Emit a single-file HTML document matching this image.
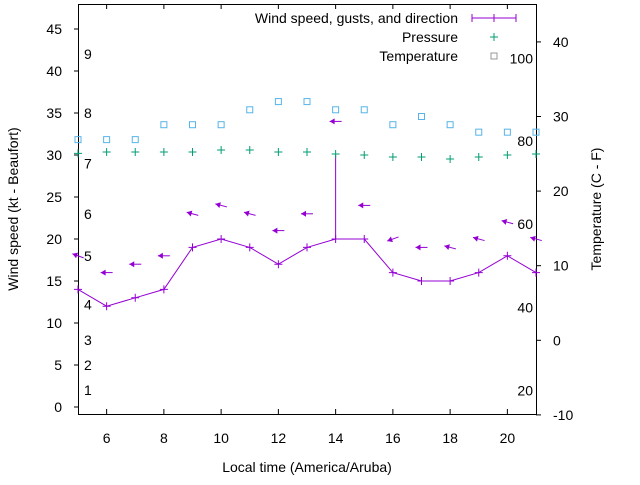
<!DOCTYPE html>
<html><head><meta charset="utf-8"><style>
body{margin:0;background:#fff;}
svg{font-family:"Liberation Sans",sans-serif;}
</style></head><body>
<svg id="chart" width="640" height="480" viewBox="0 0 640 480" xmlns="http://www.w3.org/2000/svg">
<rect width="640" height="480" fill="#fff"/>
<g id="grid"></g>
<rect x="78.5" y="4.5" width="458" height="410" fill="none" stroke="#000"/>
<text x="307" y="472" font-size="14" text-anchor="middle">Local time (America/Aruba)</text>
<text transform="translate(18,209) rotate(-90)" font-size="14" text-anchor="middle">Wind speed (kt - Beaufort)</text>
<text transform="translate(601,209) rotate(-90)" font-size="14" text-anchor="middle">Temperature (C - F)</text>
<g font-size="14" text-anchor="end">
<text x="458" y="23">Wind speed, gusts, and direction</text>
<line x1="472" y1="18" x2="516" y2="18" stroke="#9400d3"/><line x1="494" y1="14" x2="494" y2="22" stroke="#9400d3"/><line x1="472" y1="14" x2="472" y2="22" stroke="#9400d3"/><line x1="516" y1="14" x2="516" y2="22" stroke="#9400d3"/>
<text x="458" y="42">Pressure</text>
<path d="M490 37h8M494 33v8" stroke="#009e73"/>
<text x="458" y="61">Temperature</text>
<rect x="491" y="53" width="6" height="6" fill="none" stroke="#999"/>
</g>
<g id="marks"></g>
</svg>
<script>
const hours=[5,6,7,8,9,10,11,12,13,14,15,16,17,18,19,20,21];
const wind=[14,12,13,14,19,20,19,17,19,20,20,16,15,15,16,18,16];
const gustHour=[14];
const gustVal=[30];
const dirSpeed=[18,16,17,18,23,24,23,21,23,34,24,20,19,19,20,22,20];
const dirAngle=[160,180,180,180,165,165,165,180,180,180,180,200,180,165,165,165,165];
const pressure=[30.2,30.36,30.36,30.36,30.36,30.6,30.6,30.36,30.36,30.12,30.0,29.76,29.76,29.52,29.76,30.0,30.12];
const temp=[26.9,26.9,26.9,28.9,28.9,28.9,30.9,32,32,30.9,30.9,28.9,30,28.9,27.9,27.9,27.9];
const xTicks=[6,8,10,12,14,16,18,20];
const yTicks=[0,5,10,15,20,25,30,35,40,45];
const y2Ticks=[-10,0,10,20,30,40];
const beaufort=["1","2","3","4","5","6","7","8","9"];
const beaufortKt=[2,5,8,12.2,18,23,29,35,42];
const fLabels=["20","40","60","80","100"];
const fVals=[-6.7,4.4,15.6,26.7,37.8];
const X=h=>78+(h-5)*28.625;
const Y=v=>407-v*8.4;
const Y2=c=>340.3-c*7.46;
const NS="http://www.w3.org/2000/svg";
const svg=document.getElementById('marks');
const grid=document.getElementById('grid');
function el(t,a,p){const e=document.createElementNS(NS,t);for(const k in a)e.setAttribute(k,a[k]);(p||svg).appendChild(e);return e;}
xTicks.forEach(h=>{
 const t=el('text',{x:X(h),y:443,'font-size':14,'text-anchor':'middle'},grid);t.textContent=h;
 
 
 el('path',{d:`M${X(h)} 414v-5M${X(h)} 4v5`,stroke:'#000'},grid);
});
yTicks.forEach(v=>{
 const t=el('text',{x:62,y:Y(v)+5,'font-size':14,'text-anchor':'end'},grid);t.textContent=v;
 
 
 el('path',{d:`M74 ${Y(v)}h4`,stroke:'#000'},grid);
});
y2Ticks.forEach(v=>{
 const t=el('text',{x:553,y:Y2(v)+5,'font-size':14},grid);t.textContent=v;
 
 
 el('path',{d:`M536 ${Y2(v)}h5`,stroke:'#000'},grid);
});
beaufort.forEach((b,i)=>{
 const t=el('text',{x:84,y:Y(beaufortKt[i])+5,'font-size':14},grid);t.textContent=b;
 
 
});
fLabels.forEach((f,i)=>{
 const t=el('text',{x:533,y:Y2(fVals[i])+5,'font-size':14,'text-anchor':'end'},grid);t.textContent=f;
 
 
});
// wind line
const line=el('polyline',{points:hours.map((h,i)=>X(h)+','+Y(wind[i])).join(' '),fill:'none',stroke:'#9400d3'});


hours.forEach((h,i)=>{
 const p=el('path',{d:`M${X(h)-4} ${Y(wind[i])}h8M${X(h)} ${Y(wind[i])-4}v8`,stroke:'#9400d3'});
 
 
});
gustHour.forEach((h,i)=>{
 const idx=hours.indexOf(h);
 const g=el('line',{x1:X(h),y1:Y(wind[idx]),x2:X(h),y2:Y(gustVal[i]),stroke:'#9400d3'});
 
 
});
hours.forEach((h,i)=>{
 const cx=X(h),cy=Y(dirSpeed[i]),a=dirAngle[i]*Math.PI/180;
 const dx=Math.cos(a)*6,dy=-Math.sin(a)*6;
 const g=el('g',{stroke:'#9400d3',fill:'#9400d3'});
 
 
 el('line',{x1:cx-dx,y1:cy-dy,x2:cx+dx,y2:cy+dy},g);
 const tx=cx+dx,ty=cy+dy,ux=Math.cos(a),uy=-Math.sin(a);
 el('polygon',{points:`${tx},${ty} ${tx-ux*5+uy*3},${ty-uy*5-ux*3} ${tx-ux*5-uy*3},${ty-uy*5+ux*3}`,stroke:'none'},g);
});
hours.forEach((h,i)=>{
 const p=el('path',{d:`M${X(h)-4} ${Y(pressure[i])}h8M${X(h)} ${Y(pressure[i])-4}v8`,stroke:'#009e73'});
 
 
});
hours.forEach((h,i)=>{
 const r=el('rect',{x:X(h)-3,y:Y2(temp[i])-3,width:6,height:6,fill:'none',stroke:'#56b4e9'});
 
 
});
</script>
</body></html>
